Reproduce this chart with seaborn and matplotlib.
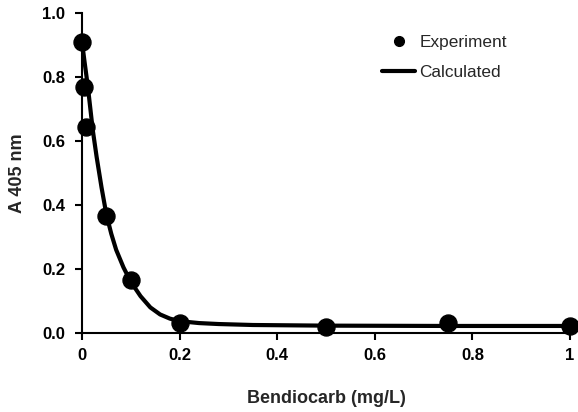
import matplotlib
matplotlib.use('Agg')
import matplotlib.pyplot as plt
from matplotlib.lines import Line2D
import seaborn as sns

# measured points
conc = [0, 0.004, 0.009, 0.05, 0.1, 0.2, 0.5, 0.75, 1.0]
absorb = [0.91, 0.77, 0.645, 0.365, 0.165, 0.03, 0.02, 0.03, 0.022]

# fitted curve
calc_conc = [0, 0.005, 0.012, 0.022, 0.03, 0.04, 0.05, 0.06, 0.07, 0.085, 0.1,
             0.12, 0.14, 0.16, 0.18, 0.2, 0.24, 0.28, 0.35, 0.5, 0.75, 1.0]
calc_abs = [0.91, 0.85, 0.77, 0.635, 0.55, 0.455, 0.37, 0.31, 0.26, 0.205, 0.16,
            0.115, 0.08, 0.058, 0.045, 0.037, 0.031, 0.028, 0.025, 0.023, 0.022, 0.022]

x_ticks = [0, 0.2, 0.4, 0.6, 0.8, 1.0]
x_tick_labels = ['0', '0.2', '0.4', '0.6', '0.8', '1']
y_ticks = [0, 0.2, 0.4, 0.6, 0.8, 1.0]
y_tick_labels = ['0.0', '0.2', '0.4', '0.6', '0.8', '1.0']

sns.set_style('ticks')
plt.rcParams['font.family'] = ['Liberation Sans', 'DejaVu Sans']

fig = plt.figure(figsize=(5.78, 4.12), dpi=100)
ax = fig.add_axes([82 / 578, 1 - 333 / 412, 488 / 578, 320 / 412])

sns.lineplot(x=calc_conc, y=calc_abs, color='black', lw=3, sort=False,
             estimator=None, ax=ax)
sns.scatterplot(x=conc, y=absorb, color='black', edgecolor='black', s=150,
                clip_on=False, zorder=3, ax=ax)

ax.set_xlim(0, 1)
ax.set_ylim(0, 1)
ax.set_xticks(x_ticks)
ax.set_xticklabels(x_tick_labels)
ax.set_yticks(y_ticks)
ax.set_yticklabels(y_tick_labels)
for lab in ax.get_xticklabels() + ax.get_yticklabels():
    lab.set_fontweight('bold')
    lab.set_fontsize(12)
ax.tick_params(axis='x', direction='out', length=5, width=1.5, pad=6, colors='black')
ax.tick_params(axis='y', direction='out', length=5, width=1.5, pad=7, colors='black')

for side in ['left', 'bottom']:
    ax.spines[side].set_linewidth(1.5)
    ax.spines[side].set_color('black')
sns.despine(ax=ax)

ax.set_xlabel('Bendiocarb (mg/L)', fontsize=13, fontweight='bold', labelpad=19)
ax.set_ylabel('A 405 nm', fontsize=13, fontweight='bold', labelpad=12)

handles = [
    Line2D([], [], marker='o', color='black', linestyle='none', markersize=7),
    Line2D([], [], color='black', lw=3),
]
fig.legend(handles, ['Experiment', 'Calculated'], loc='upper left',
           bbox_to_anchor=(382 / 578, 1 - 35 / 412), frameon=False,
           fontsize=12.4, handlelength=1.92, handletextpad=0.25,
           borderpad=0, borderaxespad=0, labelspacing=0.85)

fig.savefig('out.png', dpi=100)
